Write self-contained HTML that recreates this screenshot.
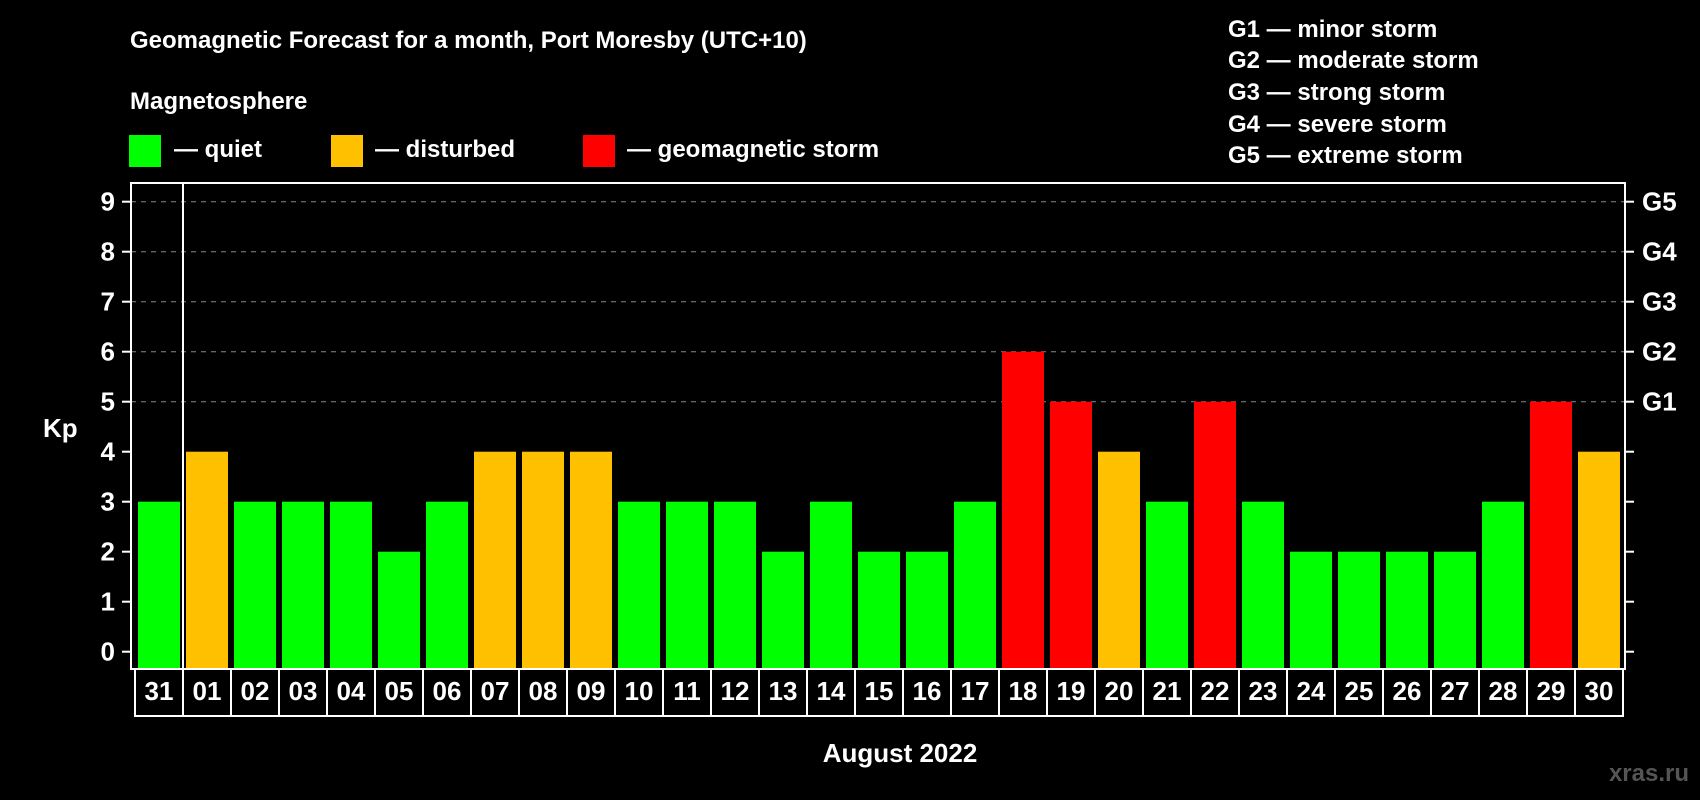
<!DOCTYPE html>
<html><head><meta charset="utf-8"><style>
html,body{margin:0;padding:0;background:#000;}
svg{display:block;font-family:"Liberation Sans",sans-serif;font-weight:bold;}
</style></head><body>
<svg id="chart" width="1700" height="800" viewBox="0 0 1700 800">
<rect x="0" y="0" width="1700" height="800" fill="#000"/>
<text x="130" y="48" font-size="24" fill="#fff">Geomagnetic Forecast for a month, Port Moresby (UTC+10)</text>
<text x="130" y="109" font-size="24" fill="#fff">Magnetosphere</text>
<rect x="129" y="135" width="32" height="32" fill="#00ff00"/>
<text x="174" y="157" font-size="24" fill="#fff">— quiet</text>
<rect x="331" y="135" width="32" height="32" fill="#ffc000"/>
<text x="375" y="157" font-size="24" fill="#fff">— disturbed</text>
<rect x="583" y="135" width="32" height="32" fill="#ff0000"/>
<text x="627" y="157" font-size="24" fill="#fff">— geomagnetic storm</text>
<g font-size="24" fill="#fff">
<text x="1228" y="37">G1 — minor storm</text>
<text x="1228" y="68">G2 — moderate storm</text>
<text x="1228" y="100">G3 — strong storm</text>
<text x="1228" y="132">G4 — severe storm</text>
<text x="1228" y="163">G5 — extreme storm</text>
</g>
<text x="43" y="437" font-size="26" fill="#fff">Kp</text>
<text x="900" y="762" font-size="26" fill="#fff" text-anchor="middle">August 2022</text>
<text x="1689" y="781" font-size="24" fill="#555" text-anchor="end">xras.ru</text>
<g id="grid"></g>
<g id="bars"></g>
<g id="axes"></g>
</svg>
<script>
const days = ["31","01","02","03","04","05","06","07","08","09","10","11","12","13","14","15","16","17","18","19","20","21","22","23","24","25","26","27","28","29","30"];
const kpValues = [3,4,3,3,3,2,3,4,4,4,3,3,3,2,3,2,2,3,6,5,4,3,5,3,2,2,2,2,3,5,4];
const yTicks = [0,1,2,3,4,5,6,7,8,9];
const gLabels = ["G1","G2","G3","G4","G5"];
const gLevels = [5,6,7,8,9];

const NS = "http://www.w3.org/2000/svg";
const L = 131, R = 1625, T = 183, B = 669;
const y = v => 651.7 - 50 * v;
const step = (R - L - 6) / days.length;
const xs = i => L + 7 + step * i;
const bw = step - 6;
function mk(tag, attrs, parent){const e=document.createElementNS(NS,tag);for(const k in attrs)e.setAttribute(k,attrs[k]);parent.appendChild(e);return e;}
const grid=document.getElementById('grid'), bars=document.getElementById('bars'), axes=document.getElementById('axes');

gLevels.forEach((lv,i)=>{
  const ln=mk('line',{x1:L,x2:R,y1:y(lv),y2:y(lv),stroke:'#888','stroke-width':1,'stroke-dasharray':'5,5'},grid);
  
  
  const t=mk('text',{x:1642,y:y(lv)+9,'font-size':26,fill:'#fff'},axes);
  t.textContent=gLabels[i];
  
  
});

const color = v => v>=5 ? '#ff0000' : (v>=4 ? '#ffc000' : '#00ff00');
kpValues.forEach((v,i)=>{
  const r=mk('rect',{x:xs(i),y:y(v),width:bw,height:B-y(v),fill:color(v)},bars);
  
  
});

yTicks.forEach(v=>{
  mk('line',{x1:L-9,x2:L,y1:y(v),y2:y(v),stroke:'#fff','stroke-width':2},axes);
  mk('line',{x1:R,x2:R+9,y1:y(v),y2:y(v),stroke:'#fff','stroke-width':2},axes);
  const t=mk('text',{x:115,y:y(v)+9,'font-size':26,fill:'#fff','text-anchor':'end'},axes);
  t.textContent=v;
  
  
});

const frame=mk('rect',{x:L,y:T,width:R-L,height:B-T,fill:'none',stroke:'#fff','stroke-width':2},axes);


const div=mk('line',{x1:xs(1)-3,x2:xs(1)-3,y1:T,y2:B,stroke:'#fff','stroke-width':2},axes);



const box=mk('rect',{x:L+4,y:B,width:R-L-6,height:47,fill:'none',stroke:'#fff','stroke-width':2},axes);


days.forEach((d,i)=>{
  if(i>0) mk('line',{x1:xs(i)-3,x2:xs(i)-3,y1:B,y2:B+47,stroke:'#fff','stroke-width':2},axes);
  const t=mk('text',{x:xs(i)+bw/2,y:700,'font-size':26,fill:'#fff','text-anchor':'middle'},axes);
  t.textContent=d;
  
  
});
</script>
</body></html>
